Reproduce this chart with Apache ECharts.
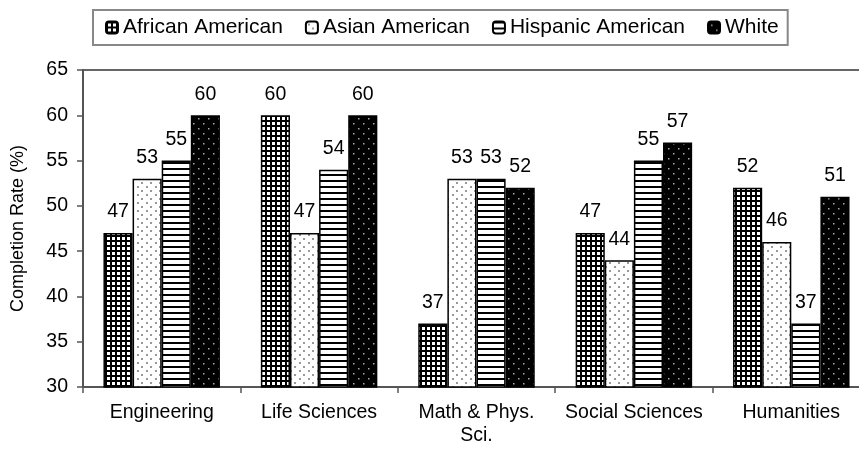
<!DOCTYPE html>
<html><head><meta charset="utf-8">
<script src="https://cdn.jsdelivr.net/npm/echarts@6/dist/echarts.min.js"></script>
<style>html,body{margin:0;padding:0;background:#fff}#c{width:859px;height:450px}</style>
</head><body><div id="c"></div><script>
const categories = ['Engineering', 'Life Sciences', 'Math & Phys.\nSci.', 'Social Sciences', 'Humanities'];
const seriesNames = ['African American', 'Asian American', 'Hispanic American', 'White'];
const africanAmerican = [47, 60, 37, 47, 52];
const asianAmerican = [53, 47, 53, 44, 46];
const hispanicAmerican = [55, 54, 53, 55, 37];
const white = [60, 60, 52, 57, 51];
const yMin = 30, yMax = 65, yInterval = 5;
const yTitle = 'Completion Rate (%)';

function makePattern(w, h, draw) {
  const c = document.createElement('canvas');
  c.width = w; c.height = h;
  const g = c.getContext('2d');
  draw(g);
  return { image: c, repeat: 'repeat' };
}
const gridPat = makePattern(5, 5, g => {
  g.fillStyle = '#fff'; g.fillRect(0, 0, 5, 5);
  g.fillStyle = '#000'; g.fillRect(0, 0, 5, 2); g.fillRect(0, 0, 2, 5);
});
const dotPat = makePattern(9, 8, g => {
  g.fillStyle = '#fff'; g.fillRect(0, 0, 9, 8);
  g.fillStyle = '#999'; g.fillRect(2, 2, 2, 2); g.fillRect(6, 6, 2, 2);
});
const hLinePat = makePattern(4, 6, g => {
  g.fillStyle = '#fff'; g.fillRect(0, 0, 4, 6);
  g.fillStyle = '#000'; g.fillRect(0, 0, 4, 2);
});
const blackDotPat = makePattern(10, 10, g => {
  g.fillStyle = '#000'; g.fillRect(0, 0, 10, 10);
  g.fillStyle = '#aaa'; g.fillRect(3, 3, 1.5, 1.5); g.fillRect(8, 8, 1.5, 1.5);
});
const patterns = [gridPat, dotPat, hLinePat, blackDotPat];
const values = [africanAmerican, asianAmerican, hispanicAmerican, white];
const FONT = 'Liberation Sans, Arial, sans-serif';

const chart = echarts.init(document.getElementById('c'));
chart.setOption({
  animation: false,
  backgroundColor: '#fff',
  textStyle: { fontFamily: FONT, color: '#000' },
  grid: { left: 83, top: 70, height: 317, width: 787, outerBoundsMode: 'none', containLabel: false,
          show: true, borderColor: '#666', borderWidth: 2 },
  legend: {
    data: seriesNames,
    left: 93, top: 10,
    padding: [7, 9, 7, 12],
    itemGap: 22,
    itemWidth: 12, itemHeight: 12,
    borderColor: '#888', borderWidth: 2,
    textStyle: { fontSize: 21, color: '#000', fontFamily: FONT }
  },
  xAxis: {
    type: 'category',
    data: categories,
    axisLine: { lineStyle: { color: '#555', width: 2 } },
    axisTick: { show: true, length: 6, lineStyle: { color: '#555', width: 1.5 } },
    axisLabel: { fontSize: 19.5, color: '#000', margin: 14, lineHeight: 23, fontFamily: FONT, interval: 0 }
  },
  yAxis: {
    type: 'value',
    min: yMin, max: yMax, interval: yInterval,
    name: yTitle,
    nameLocation: 'middle',
    nameGap: 56,
    nameTextStyle: { fontSize: 18, color: '#000', fontFamily: FONT },
    axisLine: { show: true, lineStyle: { color: '#555', width: 2 } },
    axisTick: { show: true, length: 6, lineStyle: { color: '#555', width: 1.5 } },
    axisLabel: { fontSize: 19.5, color: '#000', margin: 15, fontFamily: FONT },
    splitLine: { show: false }
  },
  series: seriesNames.map((n, i) => ({
    name: n,
    type: 'bar',
    data: values[i],
    barGap: '0%',
    barCategoryGap: '26%',
    itemStyle: { color: patterns[i], borderColor: '#000', borderWidth: 1.5 },
    label: { show: true, position: 'top', distance: 11, fontSize: 19.5, color: '#000', fontFamily: FONT }
  }))
});
</script></body></html>
